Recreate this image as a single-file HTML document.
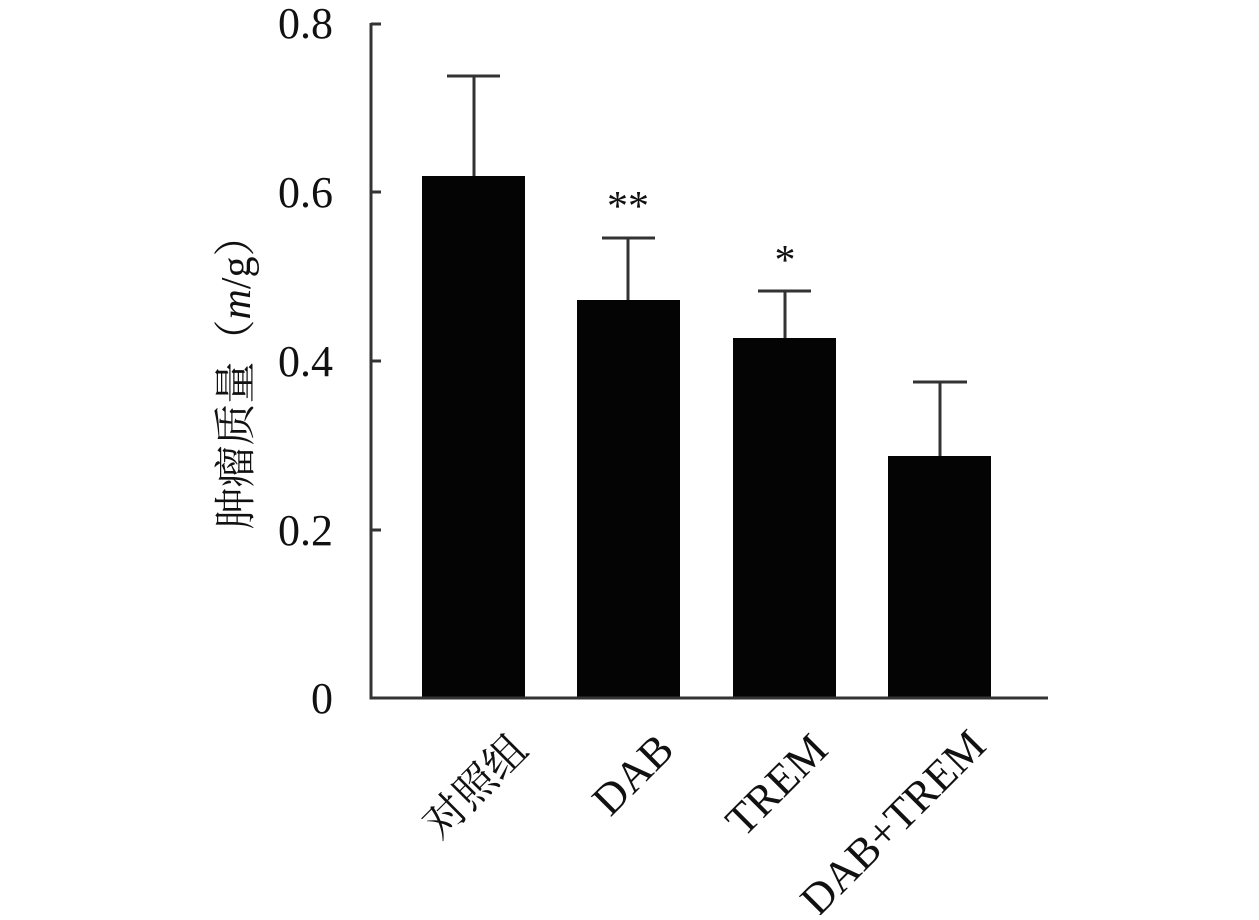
<!DOCTYPE html>
<html><head><style>body{margin:0;background:#fff} svg text{font-family:"Liberation Serif","Noto Serif CJK SC",serif}</style></head><body>
<svg width="1259" height="915" viewBox="0 0 1259 915" xmlns="http://www.w3.org/2000/svg">
<rect width="1259" height="915" fill="#fff"/>
<g fill="#050405">
<rect x="422" y="176" width="103" height="522"/>
<rect x="577" y="300" width="103" height="398"/>
<rect x="733" y="338" width="103" height="360"/>
<rect x="888" y="456" width="103" height="242"/>
</g>
<g stroke="#333" stroke-width="3" fill="none">
<path d="M474 176V76M447 76H500"/>
<path d="M628 300V238M602 238H655"/>
<path d="M785 338V291M758 291H811"/>
<path d="M940 456V382M913 382H967"/>
<path d="M371 23V698H1048"/>
<path d="M371 24H381M371 192H381M371 361H381M371 530H381"/>
</g>
<g font-size="44" text-anchor="end" fill="#111">
<text x="333" y="38">0.8</text>
<text x="333" y="207">0.6</text>
<text x="333" y="376">0.4</text>
<text x="333" y="545">0.2</text>
<text x="333" y="713">0</text>
</g>
<g font-size="42" fill="#111" text-anchor="middle">
<text x="628" y="220">**</text>
<text x="785" y="274">*</text>
</g>
<text transform="translate(250,372) rotate(-90)" font-size="42" text-anchor="middle" fill="#111">肿瘤质量（<tspan font-style="italic">m</tspan>/g）</text>
<g font-size="44" fill="#111" text-anchor="end">
<text transform="translate(530,752) rotate(-45)" font-size="42">对照组</text>
<text transform="translate(676,752) rotate(-45)">DAB</text>
<text transform="translate(830,752) rotate(-45)">TREM</text>
<text transform="translate(988,748) rotate(-45)">DAB+TREM</text>
</g>
</svg>
</body></html>
